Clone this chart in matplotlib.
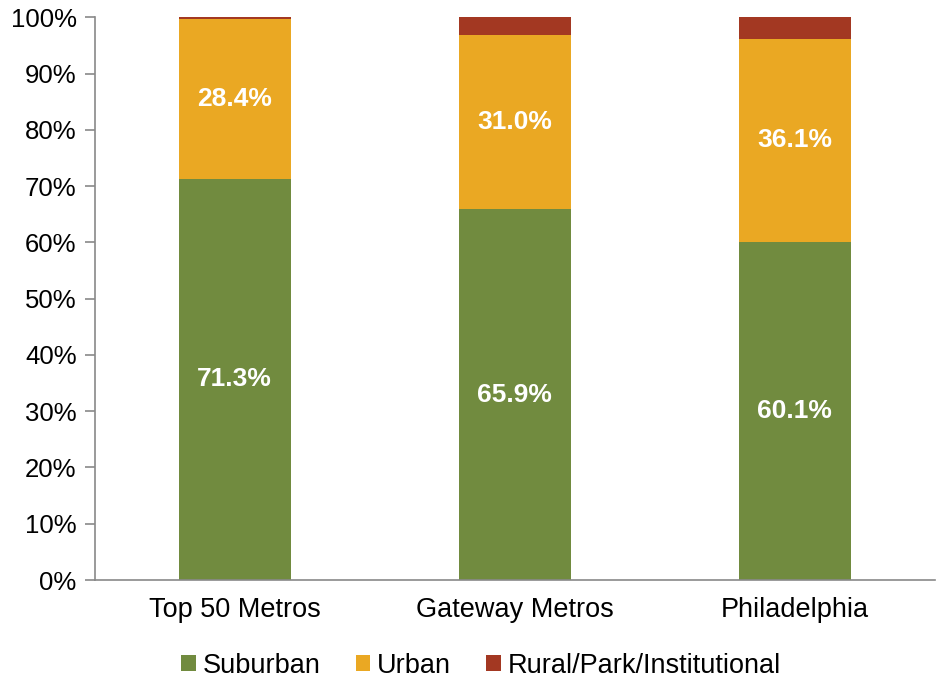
import numpy as np
import matplotlib.pyplot as plt
from matplotlib.ticker import PercentFormatter

plt.rcParams['font.family'] = ['Liberation Sans', 'DejaVu Sans']

# share of each land type, in percent
regions = ['Top 50 Metros', 'Gateway Metros', 'Philadelphia']
suburban = [71.3, 65.9, 60.1]
urban = [28.4, 31.0, 36.1]
rural = [0.3, 3.1, 3.8]

series = [('Suburban', suburban, '#718b3f'),
          ('Urban', urban, '#eaa823'),
          ('Rural/Park/Institutional', rural, '#a33822')]

fig = plt.figure(figsize=(9.37, 6.78), dpi=100)
ax = fig.add_axes([0.101, 0.1445, 0.8965, 0.830])

x = np.arange(len(regions))
bottom = np.zeros(len(regions))
for name, vals, color in series:
    vals = np.array(vals)
    ax.bar(x, vals, 0.4, bottom=bottom, color=color, label=name)
    if name != 'Rural/Park/Institutional':
        for xi, b, v in zip(x, bottom, vals):
            ax.text(xi, b + v / 2, f'{v:.1f}%', ha='center', va='center',
                    color='white', fontsize=19, fontweight='bold')
    bottom += vals

ax.set_xlim(-0.5, 2.5)
ax.set_ylim(0, 100)
ax.set_yticks(np.arange(0, 101, 10))
ax.yaxis.set_major_formatter(PercentFormatter(decimals=0))
ax.set_xticks(x)
ax.set_xticklabels(regions)

for s in ['top', 'right']:
    ax.spines[s].set_visible(False)
for s in ['left', 'bottom']:
    ax.spines[s].set_color('#898989')
    ax.spines[s].set_linewidth(1.2)
ax.tick_params(axis='y', length=7, width=1.2, color='#898989', labelsize=18.5, pad=6)
ax.tick_params(axis='x', length=0, labelsize=19.5, pad=12)

ax.legend(loc='center', bbox_to_anchor=(0.46, -0.152), ncol=3,
          frameon=False, fontsize=19.5, handlelength=0.55, handleheight=0.55,
          handletextpad=0.25, columnspacing=1.3)

fig.savefig('out.png', dpi=100)
